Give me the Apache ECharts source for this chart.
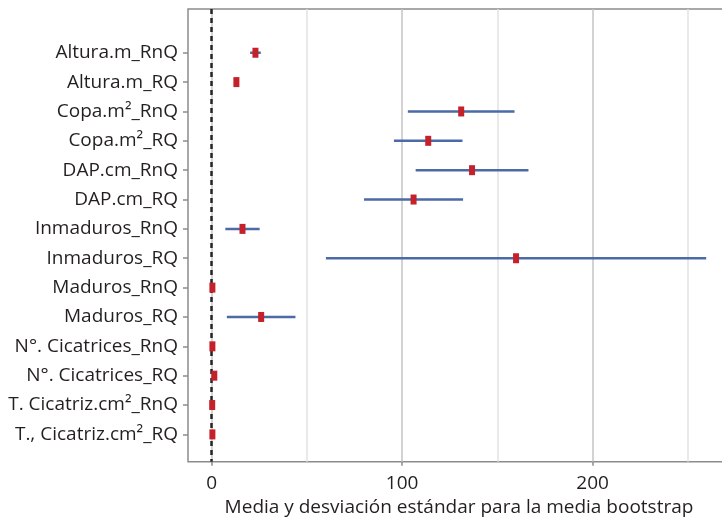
<!DOCTYPE html>
<html>
<head>
<meta charset="utf-8">
<script src="https://cdn.jsdelivr.net/npm/echarts@6/dist/echarts.min.js"></script>
<style>html,body{margin:0;padding:0;background:#fff}#c{width:722px;height:517px}</style>
</head>
<body>
<div id="c"></div>
<script>
const categories = [
  'Altura.m_RnQ', 'Altura.m_RQ', 'Copa.m²_RnQ', 'Copa.m²_RQ',
  'DAP.cm_RnQ', 'DAP.cm_RQ', 'Inmaduros_RnQ', 'Inmaduros_RQ',
  'Maduros_RnQ', 'Maduros_RQ', 'N°. Cicatrices_RnQ', 'N°. Cicatrices_RQ',
  'T. Cicatriz.cm²_RnQ', 'T., Cicatriz.cm²_RQ'
];
const means = [23, 13, 131, 113.7, 136.7, 106, 16.2, 159.8, 0.4, 26, 0.4, 1.4, 0.3, 0.4];
const sds   = [2.8, 0.8, 28, 18, 29.6, 26, 9, 99.8, 0.2, 18, 0.2, 0.5, 0.2, 0.2];
const majorTicks = [0, 100, 200];
const minorTicks = [50, 150, 250];
const xTitle = 'Media y desviación estándar para la media bootstrap';

const font = 'Open Sans';
const idx = categories.map((_, i) => i);
const barData = categories.map((c, i) => [means[i] - sds[i], means[i] + sds[i], i]);
const meanData = categories.map((c, i) => [means[i], i]);

const chart = echarts.init(document.getElementById('c'), null, {renderer: 'canvas'});
chart.setOption({
  animation: false,
  backgroundColor: '#fff',
  grid: {left: 188, top: 9, height: 452.7, width: 542, outerBoundsMode: 'none', containLabel: false,
         show: true, borderColor: '#8c8c8c', borderWidth: 1.5, backgroundColor: 'transparent'},
  xAxis: [{
    type: 'value', min: -12.4, max: 272.1, position: 'bottom',
    axisLine: {show: false, onZero: false},
    axisTick: {show: true, customValues: majorTicks, length: 4, lineStyle: {color: '#8c8c8c', width: 1.5}},
    axisLabel: {customValues: majorTicks, fontSize: 19, color: '#231f20', fontFamily: font, margin: 12},
    splitLine: {show: true, lineStyle: {color: '#c4c4c4', width: 1.5}},
    name: xTitle, nameLocation: 'middle', nameGap: 30,
    nameTextStyle: {fontSize: 19, color: '#231f20', fontFamily: font}
  }, {
    type: 'value', min: -12.4, max: 272.1, position: 'bottom',
    axisLine: {show: false, onZero: false},
    axisTick: {show: false, customValues: minorTicks},
    axisLabel: {show: false, customValues: minorTicks},
    splitLine: {show: true, lineStyle: {color: '#e2e2e2', width: 1.5}}
  }],
  yAxis: {
    type: 'value', inverse: true, min: -1.49, max: 13.93,
    axisLine: {show: false, onZero: false},
    axisTick: {show: true, customValues: idx, length: 5, lineStyle: {color: '#8c8c8c', width: 1.5}},
    axisLabel: {customValues: idx, formatter: v => categories[Math.round(v)] || '', fontSize: 19, color: '#231f20', fontFamily: font, margin: 10},
    splitLine: {show: false}
  },
  series: [{
    type: 'custom',
    data: barData,
    encode: {x: [0, 1], y: 2},
    renderItem: function (params, api) {
      const a = api.coord([api.value(0), api.value(2)]);
      const b = api.coord([api.value(1), api.value(2)]);
      return {type: 'line', shape: {x1: a[0], y1: a[1], x2: b[0], y2: b[1]}, style: {stroke: '#4b6aa6', lineWidth: 2.5}};
    },
    z: 3
  }, {
    type: 'scatter',
    data: meanData,
    symbol: 'rect', symbolSize: [6, 10],
    itemStyle: {color: '#c4212b', opacity: 1},
    z: 5,
    markLine: {
      silent: true, symbol: 'none', label: {show: false},
      lineStyle: {color: '#262626', type: [5, 4], width: 2.5},
      data: [{xAxis: 0}]
    }
  }]
});
</script>
</body>
</html>
